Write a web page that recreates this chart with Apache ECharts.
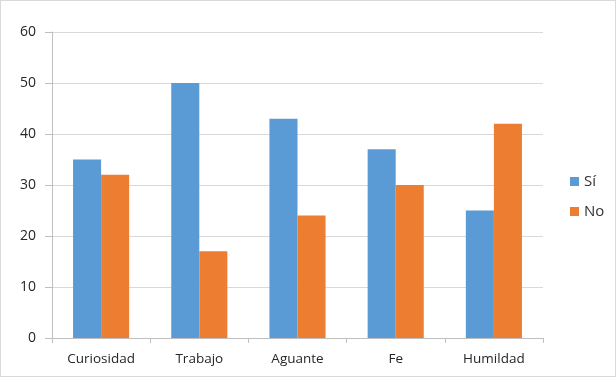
<!DOCTYPE html>
<html>
<head>
<meta charset="utf-8">
<script src="https://cdn.jsdelivr.net/npm/echarts@6/dist/echarts.min.js"></script>
<style>
  html, body { margin: 0; padding: 0; background: #fff; }
  #frame { position: absolute; left: 0; top: 0; width: 614px; height: 375px; border: 1px solid #d9d9d9; }
  #chart { width: 616px; height: 377px; }
</style>
</head>
<body>
<div id="frame"></div>
<div id="chart"></div>
<script>
const categories = ['Curiosidad', 'Trabajo', 'Aguante', 'Fe', 'Humildad'];
const siValues = [35, 50, 43, 37, 25];
const noValues = [32, 17, 24, 30, 42];
const seriesNames = ['Sí', 'No'];

const textColor = '#262626';
const fontFamily = 'Open Sans, Noto Sans, sans-serif';

const chart = echarts.init(document.getElementById('chart'), null, { renderer: 'canvas' });
chart.setOption({
  animation: false,
  textStyle: { fontFamily: fontFamily },
  grid: { left: 52, right: 73, top: 32, bottom: 39, containLabel: false },
  legend: {
    orient: 'vertical',
    left: 565,
    top: 169,
    itemWidth: 9,
    itemHeight: 9,
    itemGap: 15,
    icon: 'rect',
    textStyle: { color: '#333333', fontSize: 15, fontFamily: fontFamily },
    data: seriesNames
  },
  xAxis: {
    type: 'category',
    data: categories,
    axisLine: { lineStyle: { color: '#bfbfbf' } },
    axisTick: { show: true, length: 5, lineStyle: { color: '#bfbfbf' } },
    axisLabel: { color: textColor, fontSize: 13.5, margin: 14, fontFamily: fontFamily }
  },
  yAxis: {
    type: 'value',
    min: 0,
    max: 60,
    interval: 10,
    axisLine: { show: true, lineStyle: { color: '#bfbfbf' } },
    axisTick: { show: true, inside: false, length: 7, lineStyle: { color: '#bfbfbf' } },
    axisLabel: { color: textColor, fontSize: 14, margin: 16, fontFamily: fontFamily },
    splitLine: { lineStyle: { color: '#d9d9d9' } }
  },
  series: [
    {
      name: seriesNames[0], type: 'bar', data: siValues,
      itemStyle: { color: '#5b9bd5' },
      barGap: '0%', barCategoryGap: '42.86%'
    },
    {
      name: seriesNames[1], type: 'bar', data: noValues,
      itemStyle: { color: '#ed7d31' },
      barGap: '0%', barCategoryGap: '42.86%'
    }
  ]
});
</script>
</body>
</html>
